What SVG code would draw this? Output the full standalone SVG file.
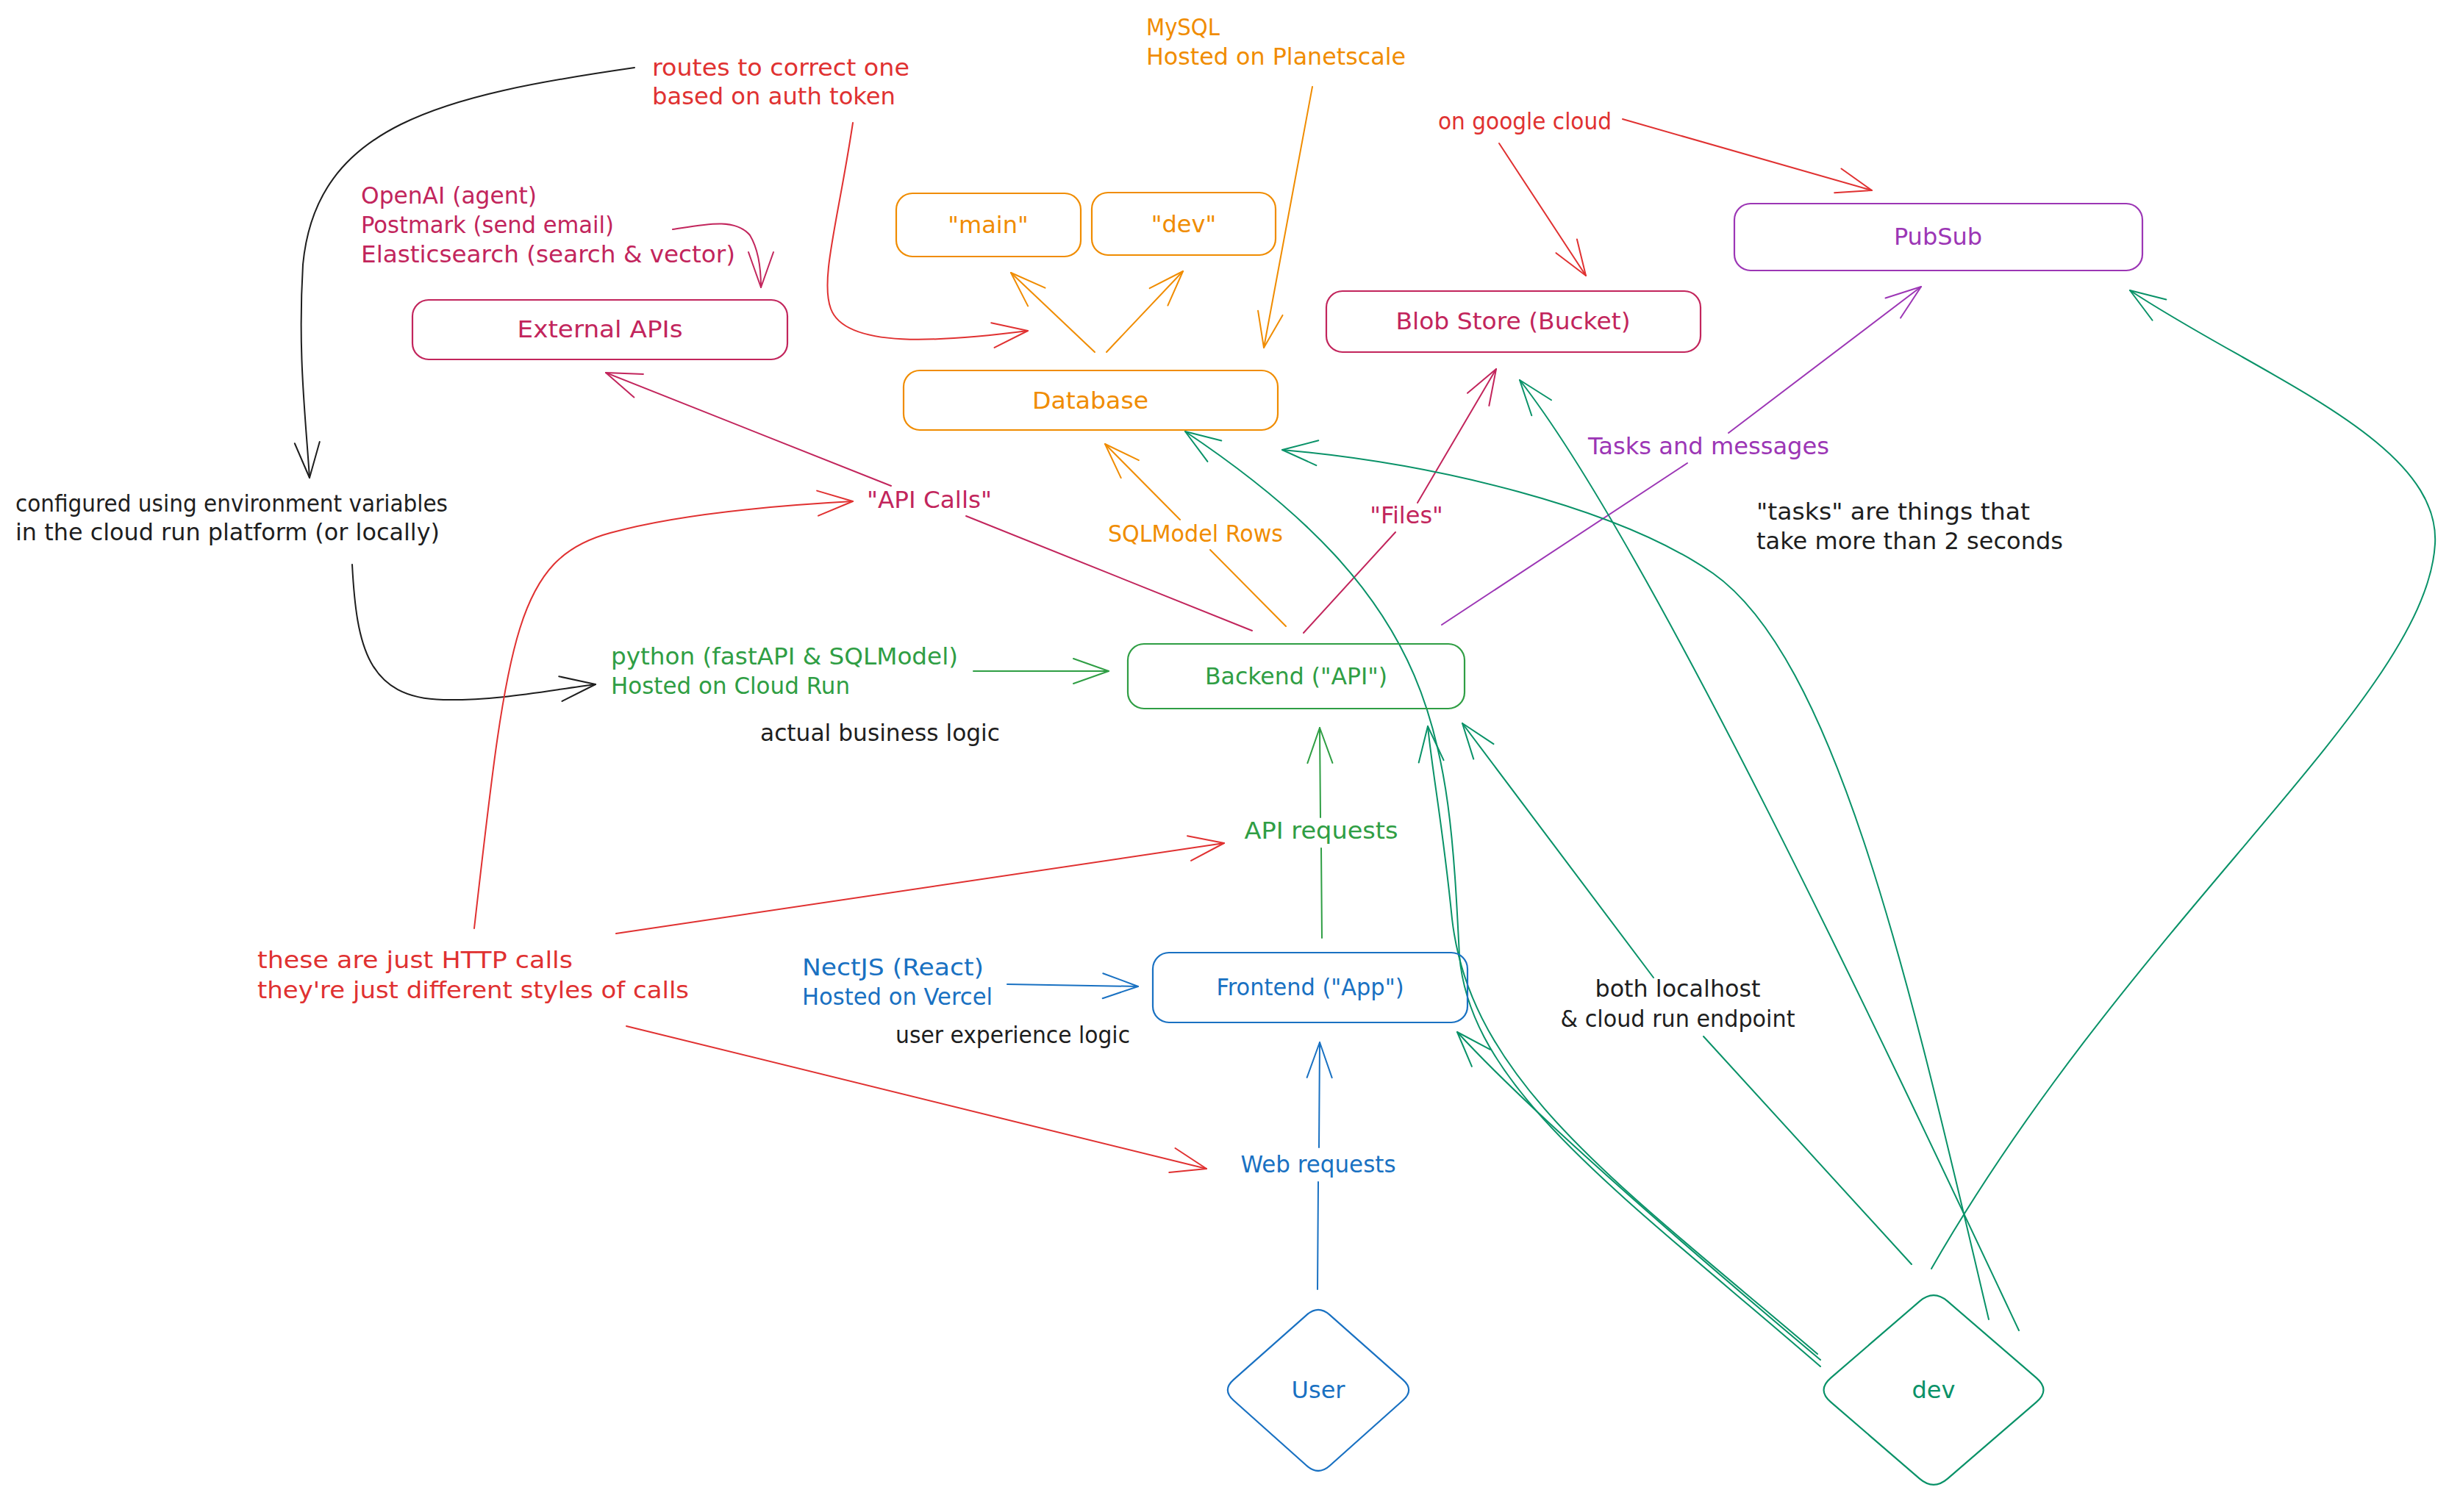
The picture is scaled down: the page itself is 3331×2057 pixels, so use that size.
<svg xmlns="http://www.w3.org/2000/svg" width="3331" height="2057" viewBox="0 0 3331 2057">
<style>
text{font-family:"DejaVu Sans","Liberation Sans",sans-serif;font-size:32px}
.m{text-anchor:middle}
.box{fill:none;stroke-width:2.2}
.c{fill:none;stroke-width:2;stroke-linecap:round;stroke-linejoin:round}
.k{fill:#1e1e1e}.kS{stroke:#1e1e1e}
.r{fill:#e03131}.rS{stroke:#e03131}
.p{fill:#c2255c}.pS{stroke:#c2255c}
.o{fill:#f08c00}.oS{stroke:#f08c00}
.v{fill:#9c36b5}.vS{stroke:#9c36b5}
.g{fill:#2f9e44}.gS{stroke:#2f9e44}
.t{fill:#099268}.tS{stroke:#099268}
.b{fill:#1971c2}.bS{stroke:#1971c2}
</style>
<defs>
<marker id="ak" markerUnits="userSpaceOnUse" viewBox="-60 -30 70 60" refX="0" refY="0" markerWidth="70" markerHeight="60" orient="auto" overflow="visible"><path d="M-48,-17 L0,0 L-48,17" fill="none" stroke="#1e1e1e" stroke-width="2" stroke-linecap="round" stroke-linejoin="round"/></marker>
<marker id="ar" markerUnits="userSpaceOnUse" viewBox="-60 -30 70 60" refX="0" refY="0" markerWidth="70" markerHeight="60" orient="auto" overflow="visible"><path d="M-48,-17 L0,0 L-48,17" fill="none" stroke="#e03131" stroke-width="2" stroke-linecap="round" stroke-linejoin="round"/></marker>
<marker id="ap" markerUnits="userSpaceOnUse" viewBox="-60 -30 70 60" refX="0" refY="0" markerWidth="70" markerHeight="60" orient="auto" overflow="visible"><path d="M-48,-17 L0,0 L-48,17" fill="none" stroke="#c2255c" stroke-width="2" stroke-linecap="round" stroke-linejoin="round"/></marker>
<marker id="ao" markerUnits="userSpaceOnUse" viewBox="-60 -30 70 60" refX="0" refY="0" markerWidth="70" markerHeight="60" orient="auto" overflow="visible"><path d="M-48,-17 L0,0 L-48,17" fill="none" stroke="#f08c00" stroke-width="2" stroke-linecap="round" stroke-linejoin="round"/></marker>
<marker id="av" markerUnits="userSpaceOnUse" viewBox="-60 -30 70 60" refX="0" refY="0" markerWidth="70" markerHeight="60" orient="auto" overflow="visible"><path d="M-48,-17 L0,0 L-48,17" fill="none" stroke="#9c36b5" stroke-width="2" stroke-linecap="round" stroke-linejoin="round"/></marker>
<marker id="ag" markerUnits="userSpaceOnUse" viewBox="-60 -30 70 60" refX="0" refY="0" markerWidth="70" markerHeight="60" orient="auto" overflow="visible"><path d="M-48,-17 L0,0 L-48,17" fill="none" stroke="#2f9e44" stroke-width="2" stroke-linecap="round" stroke-linejoin="round"/></marker>
<marker id="at" markerUnits="userSpaceOnUse" viewBox="-60 -30 70 60" refX="0" refY="0" markerWidth="70" markerHeight="60" orient="auto" overflow="visible"><path d="M-48,-17 L0,0 L-48,17" fill="none" stroke="#099268" stroke-width="2" stroke-linecap="round" stroke-linejoin="round"/></marker>
<marker id="ab" markerUnits="userSpaceOnUse" viewBox="-60 -30 70 60" refX="0" refY="0" markerWidth="70" markerHeight="60" orient="auto" overflow="visible"><path d="M-48,-17 L0,0 L-48,17" fill="none" stroke="#1971c2" stroke-width="2" stroke-linecap="round" stroke-linejoin="round"/></marker>
</defs>
<rect width="3331" height="2057" fill="#ffffff"/>

<g id="connectors">
<path class="c kS" d="M863 92 C600 130,430 170,412 360 C405 480,415 560,421 650" marker-end="url(#ak)"/>
<path class="c kS" d="M479 768 C485 880,500 950,603 952 C680 953,740 940,810 931" marker-end="url(#ak)"/>
<path class="c rS" d="M1160 167 C1140 300,1115 380,1130 420 C1150 475,1280 465,1398 450" marker-end="url(#ar)"/>
<path class="c rS" d="M2039 195 L2157 375" marker-end="url(#ar)"/>
<path class="c rS" d="M2207 162 L2546 259" marker-end="url(#ar)"/>
<path class="c rS" d="M645 1263 C690 870,700 760,830 725 C920 700,1050 688,1160 682" marker-end="url(#ar)"/>
<path class="c rS" d="M838 1270 L1665 1147" marker-end="url(#ar)"/>
<path class="c rS" d="M852 1396 L1641 1590" marker-end="url(#ar)"/>
<path class="c pS" d="M915 312 C960 305,1000 296,1020 320 C1032 340,1035 370,1035 391" marker-end="url(#ap)"/>
<path class="c pS" d="M1703 858 L1314 702"/>
<path class="c pS" d="M1212 661 L824 507" marker-end="url(#ap)"/>
<path class="c pS" d="M1773 861 L1898 724"/>
<path class="c pS" d="M1928 684 L2035 502" marker-end="url(#ap)"/>
<path class="c oS" d="M1489 479 L1375 371" marker-end="url(#ao)"/>
<path class="c oS" d="M1505 479 L1609 369" marker-end="url(#ao)"/>
<path class="c oS" d="M1785 118 L1719 473" marker-end="url(#ao)"/>
<path class="c oS" d="M1749 852 L1646 748"/>
<path class="c oS" d="M1605 707 L1503 604" marker-end="url(#ao)"/>
<path class="c vS" d="M1961 850 L2295 630"/>
<path class="c vS" d="M2351 589 L2613 390" marker-end="url(#av)"/>
<path class="c gS" d="M1324 913 L1508 913" marker-end="url(#ag)"/>
<path class="c gS" d="M1798 1276 L1797 1154"/>
<path class="c gS" d="M1796 1112 L1795 990" marker-end="url(#ag)"/>
<path class="c bS" d="M1370 1339 L1548 1342" marker-end="url(#ab)"/>
<path class="c bS" d="M1792 1754 L1793 1608"/>
<path class="c bS" d="M1794 1561 L1795 1418" marker-end="url(#ab)"/>
<path class="c tS" d="M2476 1850 C2250 1660,2070 1500,1982 1404" marker-end="url(#at)"/>
<path class="c tS" d="M2472 1842 C2200 1610,2000 1470,1975 1250 C1962 1120,1948 1050,1942 988" marker-end="url(#at)"/>
<path class="c tS" d="M2476 1859 C2200 1620,2000 1480,1985 1300 C1970 1000,1960 820,1612 587" marker-end="url(#at)"/>
<path class="c tS" d="M2746 1810 C2600 1500,2250 750,2067 517" marker-end="url(#at)"/>
<path class="c tS" d="M2705 1795 C2600 1350,2500 900,2330 780 C2200 690,1950 630,1744 612" marker-end="url(#at)"/>
<path class="c tS" d="M2600 1720 L2317 1410"/>
<path class="c tS" d="M2249 1330 L1989 984" marker-end="url(#at)"/>
<path class="c tS" d="M2627 1726 C2900 1250,3300 950,3312 740 C3320 600,3070 510,2897 395" marker-end="url(#at)"/>
</g>

<g id="external-apis"><rect class="box pS" x="561" y="408" width="510" height="81" rx="22"/><text class="m p" x="816" y="459" textLength="225" lengthAdjust="spacingAndGlyphs">External APIs</text></g>
<g id="db-main"><rect class="box oS" x="1219" y="263" width="251" height="86" rx="22"/><text class="m o" x="1344" y="317">"main"</text></g>
<g id="db-dev"><rect class="box oS" x="1485" y="262" width="250" height="85" rx="22"/><text class="m o" x="1610" y="316">"dev"</text></g>
<g id="database"><rect class="box oS" x="1229" y="504" width="509" height="81" rx="22"/><text class="m o" x="1483" y="556" textLength="158" lengthAdjust="spacingAndGlyphs">Database</text></g>
<g id="blob-store"><rect class="box pS" x="1804" y="396" width="509" height="83" rx="22"/><text class="m p" x="2058" y="448" textLength="319" lengthAdjust="spacingAndGlyphs">Blob Store (Bucket)</text></g>
<g id="pubsub"><rect class="box vS" x="2359" y="277" width="555" height="91" rx="22"/><text class="m v" x="2636" y="333">PubSub</text></g>
<g id="backend"><rect class="box gS" x="1534" y="876" width="458" height="88" rx="22"/><text class="m g" x="1763" y="931" textLength="248" lengthAdjust="spacingAndGlyphs">Backend ("API")</text></g>
<g id="frontend"><rect class="box bS" x="1568" y="1296" width="428" height="95" rx="22"/><text class="m b" x="1782" y="1354" textLength="255" lengthAdjust="spacingAndGlyphs">Frontend ("App")</text></g>
<g id="user"><path class="box bS" d="M1808.7 1788.9 L1908.3 1877.1 Q1924 1891 1908.3 1905 L1808.7 1994 Q1793 2008 1777.3 1994 L1677.7 1905 Q1662 1891 1677.7 1877.1 L1777.3 1788.9 Q1793 1775 1808.7 1788.9 Z"/><text class="m b" x="1793" y="1902">User</text></g>
<g id="dev"><path class="box tS" d="M2649.1 1770.4 L2769.9 1874.6 Q2789 1891 2769.9 1907.4 L2649.1 2011.6 Q2630 2028 2610.9 2011.6 L2490.1 1907.4 Q2471 1891 2490.1 1874.6 L2610.9 1770.4 Q2630 1754 2649.1 1770.4 Z"/><text class="m t" x="2630" y="1902">dev</text></g>

<g id="labels">
<text class="r" x="887" y="103" textLength="350" lengthAdjust="spacingAndGlyphs">routes to correct one</text>
<text class="r" x="887" y="142" textLength="331" lengthAdjust="spacingAndGlyphs">based on auth token</text>
<text class="o" x="1559" y="48" textLength="100" lengthAdjust="spacingAndGlyphs">MySQL</text>
<text class="o" x="1559" y="88" textLength="353" lengthAdjust="spacingAndGlyphs">Hosted on Planetscale</text>
<text class="r" x="1956" y="176" textLength="236" lengthAdjust="spacingAndGlyphs">on google cloud</text>
<text class="p" x="491" y="277" textLength="239" lengthAdjust="spacingAndGlyphs">OpenAI (agent)</text>
<text class="p" x="491" y="317" textLength="344" lengthAdjust="spacingAndGlyphs">Postmark (send email)</text>
<text class="p" x="491" y="357" textLength="509" lengthAdjust="spacingAndGlyphs">Elasticsearch (search &amp; vector)</text>
<text class="k" x="21" y="696" textLength="588" lengthAdjust="spacingAndGlyphs">configured using environment variables</text>
<text class="k" x="21" y="735" textLength="577" lengthAdjust="spacingAndGlyphs">in the cloud run platform (or locally)</text>
<text class="g" x="831" y="904" textLength="472" lengthAdjust="spacingAndGlyphs">python (fastAPI &amp; SQLModel)</text>
<text class="g" x="831" y="944" textLength="325" lengthAdjust="spacingAndGlyphs">Hosted on Cloud Run</text>
<text class="k" x="1034" y="1008" textLength="326" lengthAdjust="spacingAndGlyphs">actual business logic</text>
<text class="m p" x="1264" y="691" textLength="170" lengthAdjust="spacingAndGlyphs">"API Calls"</text>
<text class="m o" x="1626" y="737" textLength="238" lengthAdjust="spacingAndGlyphs">SQLModel Rows</text>
<text class="m p" x="1913" y="712">"Files"</text>
<text class="m v" x="2324" y="618" textLength="328" lengthAdjust="spacingAndGlyphs">Tasks and messages</text>
<text class="k" x="2389" y="707" textLength="372" lengthAdjust="spacingAndGlyphs">"tasks" are things that</text>
<text class="k" x="2389" y="747" textLength="417" lengthAdjust="spacingAndGlyphs">take more than 2 seconds</text>
<text class="m g" x="1797" y="1141" textLength="209" lengthAdjust="spacingAndGlyphs">API requests</text>
<text class="r" x="350" y="1317" textLength="429" lengthAdjust="spacingAndGlyphs">these are just HTTP calls</text>
<text class="r" x="350" y="1358" textLength="587" lengthAdjust="spacingAndGlyphs">they're just different styles of calls</text>
<text class="b" x="1091" y="1327" textLength="247" lengthAdjust="spacingAndGlyphs">NectJS (React)</text>
<text class="b" x="1091" y="1367" textLength="259" lengthAdjust="spacingAndGlyphs">Hosted on Vercel</text>
<text class="k" x="1218" y="1419" textLength="319" lengthAdjust="spacingAndGlyphs">user experience logic</text>
<text class="m b" x="1793" y="1595" textLength="211" lengthAdjust="spacingAndGlyphs">Web requests</text>
<text class="m k" x="2282" y="1356" textLength="225" lengthAdjust="spacingAndGlyphs">both localhost</text>
<text class="m k" x="2282" y="1397" textLength="319" lengthAdjust="spacingAndGlyphs">&amp; cloud run endpoint</text>
</g>
</svg>
